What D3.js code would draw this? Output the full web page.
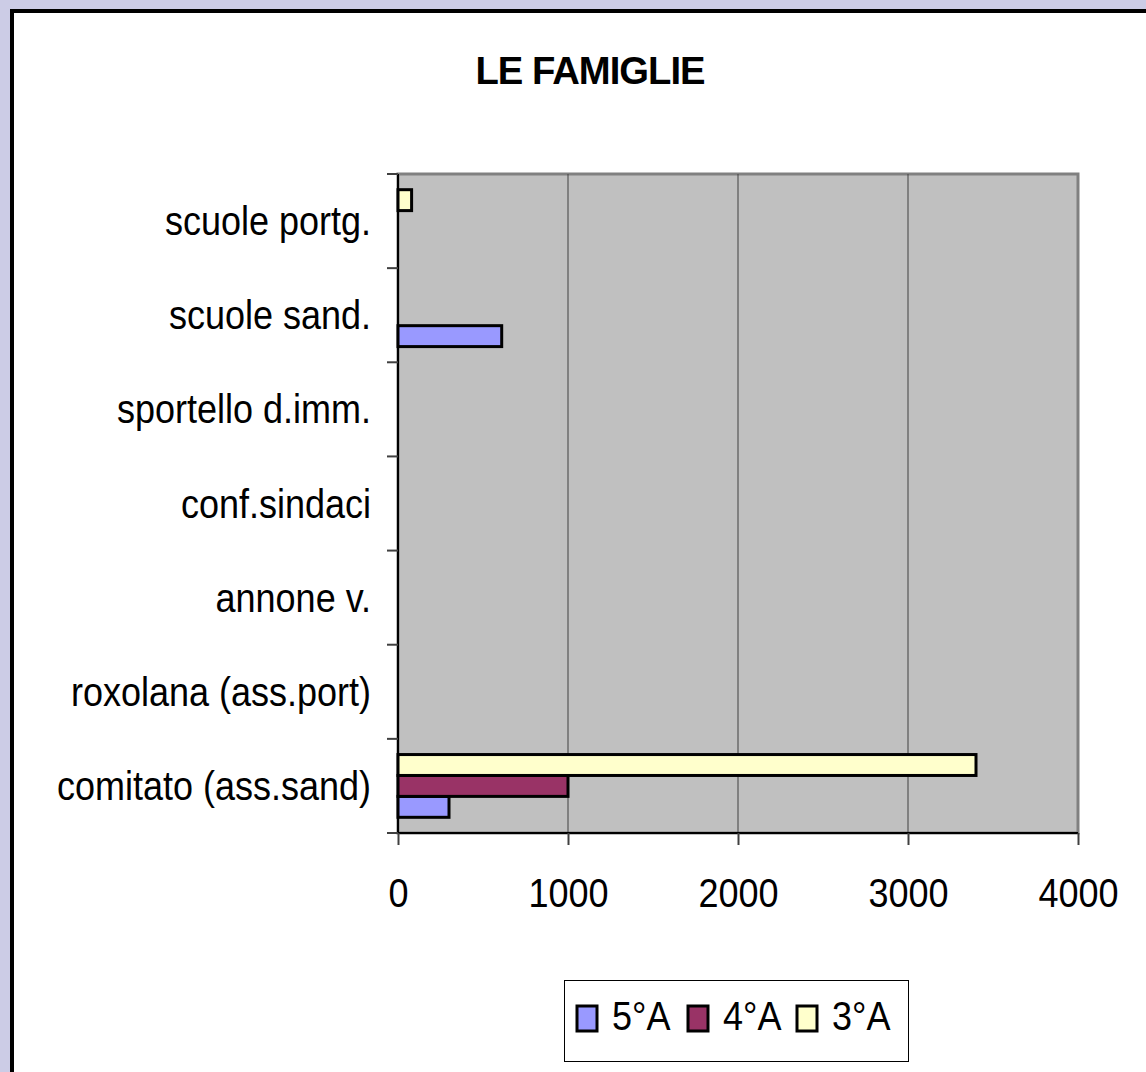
<!DOCTYPE html>
<html>
<head>
<meta charset="utf-8">
<script src="https://cdn.jsdelivr.net/npm/d3@7"></script>
<style>
html,body{margin:0;padding:0;background:#ccccE6;}
svg{display:block;}
text{font-family:"Liberation Sans",Arial,sans-serif;fill:#000;}
</style>
</head>
<body>
<script>
// Data
const categories = ["comitato (ass.sand)", "roxolana (ass.port)", "annone v.", "conf.sindaci", "sportello d.imm.", "scuole sand.", "scuole portg."];
const series = ["5°A", "4°A", "3°A"];
const values5A = [300, 0, 0, 0, 0, 610, 0];
const values4A = [1000, 0, 0, 0, 0, 0, 0];
const values3A = [3400, 0, 0, 0, 0, 0, 80];
const xTicks = [0, 1000, 2000, 3000, 4000];
const colors = ["#9999FF", "#993366", "#FFFFCC"];
const title = "LE FAMIGLIE";

const W = 1146, H = 1072;
const svg = d3.select("body").append("svg").attr("width", W).attr("height", H);

// background
svg.append("rect").attr("width", W).attr("height", H).attr("fill", "#ccccE6");
// chart area (white) with black top/left border
svg.append("rect").attr("x", 12).attr("y", 11).attr("width", W).attr("height", H).attr("fill", "#fff");
svg.append("line").attr("x1", 10).attr("x2", W).attr("y1", 11).attr("y2", 11).attr("stroke", "#000").attr("stroke-width", 4);
svg.append("line").attr("x1", 12).attr("x2", 12).attr("y1", 9).attr("y2", H).attr("stroke", "#000").attr("stroke-width", 4);

const plot = {left: 398, right: 1078, top: 174, bottom: 833};
const SX = 0.9;

const x = d3.scaleLinear().domain([0, 4000]).range([plot.left, plot.right]);
const y = d3.scaleBand().domain(categories.slice().reverse()).range([plot.top, plot.bottom]).padding(0);
const ySub = d3.scaleBand().domain(series.slice().reverse()).range([0, y.bandwidth()]).paddingInner(0).paddingOuter(0.75);

// plot area
svg.append("rect").attr("x", plot.left).attr("y", plot.top).attr("width", plot.right - plot.left).attr("height", plot.bottom - plot.top)
  .attr("fill", "#c0c0c0").attr("stroke", "#808080").attr("stroke-width", 3);

// gridlines
svg.append("g").selectAll("line").data(xTicks.slice(1, -1)).join("line")
  .attr("x1", d => x(d)).attr("x2", d => x(d)).attr("y1", plot.top).attr("y2", plot.bottom)
  .attr("stroke", "#404040").attr("stroke-width", 1);

// bars
const data = [];
categories.forEach((c, i) => {
  [values5A, values4A, values3A].forEach((arr, s) => {
    if (arr[i] > 0) data.push({cat: c, s: series[s], v: arr[i], color: colors[s]});
  });
});
svg.append("g").selectAll("rect").data(data).join("rect")
  .attr("x", x(0)).attr("y", d => y(d.cat) + ySub(d.s))
  .attr("width", d => x(d.v) - x(0)).attr("height", ySub.bandwidth())
  .attr("fill", d => d.color).attr("stroke", "#000").attr("stroke-width", 3);

// x axis
const xAxis = d3.axisBottom(x).tickValues(xTicks).tickSize(12).tickFormat(d3.format("d"));
const gx = svg.append("g").attr("transform", `translate(0,${plot.bottom})`).call(xAxis);
gx.select(".domain").attr("stroke", "#000").attr("stroke-width", 2).attr("d", `M${plot.left},0H${plot.right}`);
gx.selectAll(".tick line").attr("stroke", "#404040").attr("stroke-width", 2);
gx.selectAll(".tick text").attr("y", 0).attr("dy", null)
  .attr("transform", `translate(0,74) scale(${SX},1)`)
  .attr("font-size", 40).attr("font-family", "Liberation Sans, Arial, sans-serif").attr("fill", "#000");

// y axis
const yTickPos = y.domain().map(c => y(c)).concat([plot.bottom]);
svg.append("line").attr("x1", plot.left).attr("x2", plot.left).attr("y1", plot.top).attr("y2", plot.bottom).attr("stroke", "#000").attr("stroke-width", 2);
svg.append("g").selectAll("line").data(yTickPos).join("line")
  .attr("x1", plot.left - 11).attr("x2", plot.left).attr("y1", d => d).attr("y2", d => d)
  .attr("stroke", "#404040").attr("stroke-width", 2);
svg.append("g").selectAll("text").data(categories).join("text")
  .attr("transform", d => `translate(371,${y(d) + y.bandwidth() / 2 + 14}) scale(${SX},1)`)
  .attr("text-anchor", "end").attr("font-size", 40).text(d => d);

// title
svg.append("text").attr("transform", `translate(590,84) scale(0.98,1)`).attr("text-anchor", "middle")
  .attr("font-size", 39).attr("font-weight", "bold").attr("letter-spacing", -1).text(title);

// legend
const lg = svg.append("g");
lg.append("rect").attr("x", 564.5).attr("y", 980.5).attr("width", 344).attr("height", 81).attr("fill", "#fff").attr("stroke", "#000").attr("stroke-width", 1);
const legX = [577, 688, 797];
series.forEach((s, i) => {
  lg.append("rect").attr("x", legX[i]).attr("y", 1006).attr("width", 20).attr("height", 25)
    .attr("fill", colors[i]).attr("stroke", "#000").attr("stroke-width", 3);
  lg.append("text").attr("transform", `translate(${legX[i] + 35},1030) scale(${SX},1)`).attr("font-size", 40).text(s);
});
</script>
</body>
</html>
